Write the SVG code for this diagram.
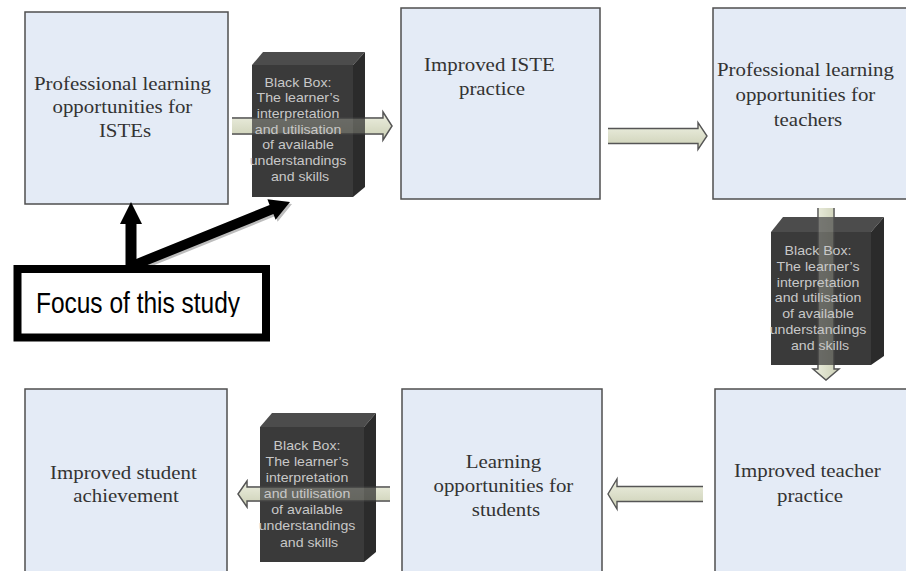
<svg xmlns="http://www.w3.org/2000/svg" width="906" height="571" viewBox="0 0 906 571">
  <defs>
    <linearGradient id="shaftH" x1="0" y1="0" x2="0" y2="1">
      <stop offset="0" stop-color="#eef0e2"/>
      <stop offset="1" stop-color="#cbcfb4"/>
    </linearGradient>
    <linearGradient id="shaftV" x1="0" y1="0" x2="1" y2="0">
      <stop offset="0" stop-color="#eef0e2"/>
      <stop offset="1" stop-color="#cbcfb4"/>
    </linearGradient>
    <clipPath id="focusClip">
      <rect x="20" y="272" width="243" height="45"/>
    </clipPath>
    <!-- reusable arrow outlines -->
    <path id="arrIste" d="M232,118 L383,118 L383,112 L392,126 L383,140 L383,134 L232,134"/>
    <path id="arrTeacher" d="M818,208 L818,369 L813,369 L826,380 L839,369 L834,369 L834,208"/>
    <path id="arrStudent" d="M390,487 L247,487 L247,481 L238,494 L247,507 L247,501 L390,501"/>
  </defs>
  <style>
    .card { fill: #e4ebf6; stroke: #4f4f4f; stroke-width: 1.5; }
    .label { font-family: "Liberation Serif", "Times New Roman", serif; font-size: 19px; fill: #333333; text-anchor: middle; }
    .front { fill: #3a3a3a; }
    .top { fill: #4c4c4c; }
    .side { fill: #2b2b2b; }
    .bb { font-family: "Liberation Sans", Arial, sans-serif; font-size: 13px; fill: #c8c8c8; text-anchor: middle; }
    .fillH { fill: url(#shaftH); stroke: none; }
    .fillV { fill: url(#shaftV); stroke: none; }
    .edge { fill: none; stroke: #555555; stroke-width: 1.4; stroke-linejoin: miter; }
    .ghost { opacity: 0.28; }
    .pointer { fill: #000000; }
    .focus { font-family: "Liberation Sans", Arial, sans-serif; font-size: 24.5px; fill: #000000; text-anchor: middle; }
  </style>

  <rect width="906" height="571" fill="#ffffff"/>

  <!-- outcome boxes -->
  <g id="pl-istes">
    <rect class="card" x="25" y="12" width="203" height="192"/>
    <text class="label" transform="translate(125 0) scale(1.1 1)">
      <tspan x="0" y="90">Professional learning</tspan>
      <tspan x="0" y="113.5">opportunities for</tspan>
      <tspan x="0" y="137">ISTEs</tspan>
    </text>
  </g>
  <g id="iste-practice">
    <rect class="card" x="401" y="8" width="199" height="191"/>
    <text class="label" transform="translate(492 0) scale(1.1 1)">
      <tspan x="0" y="71">Improved ISTE</tspan>
      <tspan x="0" y="95">practice</tspan>
    </text>
  </g>
  <g id="pl-teachers">
    <rect class="card" x="713" y="8" width="200" height="191"/>
    <text class="label" transform="translate(808 0) scale(1.1 1)">
      <tspan x="0" y="76">Professional learning</tspan>
      <tspan x="0" y="101">opportunities for</tspan>
      <tspan x="0" y="126">teachers</tspan>
    </text>
  </g>
  <g id="teacher-practice">
    <rect class="card" x="715" y="389" width="200" height="200"/>
    <text class="label" transform="translate(810 0) scale(1.1 1)">
      <tspan x="0" y="477">Improved teacher</tspan>
      <tspan x="0" y="502">practice</tspan>
    </text>
  </g>
  <g id="lo-students">
    <rect class="card" x="402" y="389" width="200" height="200"/>
    <text class="label" transform="translate(506 0) scale(1.1 1)">
      <tspan x="0" y="468">Learning</tspan>
      <tspan x="0" y="492">opportunities for</tspan>
      <tspan x="0" y="516">students</tspan>
    </text>
  </g>
  <g id="student-achievement">
    <rect class="card" x="25" y="389" width="202" height="200"/>
    <text class="label" transform="translate(126 0) scale(1.1 1)">
      <tspan x="0" y="479">Improved student</tspan>
      <tspan x="0" y="502">achievement</tspan>
    </text>
  </g>

  <!-- block arrows between stages -->
  <g id="connectors">
    <!-- ISTE PL -> ISTE practice -->
    <use href="#arrIste" class="fillH"/>
    <use href="#arrIste" class="edge"/>
    <!-- ISTE practice -> teacher PL -->
    <path class="fillH" d="M608,128.5 L698,128.5 L698,122.5 L707,136 L698,149.5 L698,143.5 L608,143.5 Z"/>
    <path class="edge" d="M608,128.5 L698,128.5 L698,122.5 L707,136 L698,149.5 L698,143.5 L608,143.5"/>
    <!-- teacher PL -> teacher practice -->
    <use href="#arrTeacher" class="fillV"/>
    <use href="#arrTeacher" class="edge"/>
    <!-- teacher practice -> student learning -->
    <path class="fillH" d="M703,486.5 L617,486.5 L617,479 L608,494 L617,509 L617,501.5 L703,501.5 Z"/>
    <path class="edge" d="M703,486.5 L617,486.5 L617,479 L608,494 L617,509 L617,501.5 L703,501.5"/>
    <!-- student learning -> achievement -->
    <use href="#arrStudent" class="fillH"/>
    <use href="#arrStudent" class="edge"/>

    <!-- pointers from the study focus -->
    <polygon fill="#bdbdbd" points="135.9,272.6 275.4,216.1 277.6,221.7 292,204 269.4,201.3 271.6,206.9 132.1,263.4"/>
    <polygon class="pointer" points="133.9,270.6 273.4,214.1 275.6,219.7 290,202 267.4,199.3 269.6,204.9 130.1,261.4"/>
    <polygon class="pointer" points="125.5,266 125.5,224 120,224 131,202 142,224 136.5,224 136.5,266"/>
  </g>

  <!-- black boxes, with the passing arrow showing faintly through -->
  <g id="blackbox-iste">
    <polygon class="top" points="252,65 263,52 365,52 353,65"/>
    <polygon class="side" points="353,65 365,52 365,187 353,197"/>
    <rect class="front" x="252" y="65" width="101" height="132"/>
    <g class="ghost">
      <use href="#arrIste" class="fillH"/>
      <use href="#arrIste" class="edge"/>
    </g>
    <text class="bb" transform="translate(300 0) scale(1.09 1)">
      <tspan x="0" y="87">Black Box:</tspan>
      <tspan x="0" y="102.5">The learner’s</tspan>
      <tspan x="0" y="118">interpretation</tspan>
      <tspan x="0" y="134">and utilisation</tspan>
      <tspan x="0" y="149.5">of available</tspan>
      <tspan x="0" y="165">understandings</tspan>
      <tspan x="0" y="181">and skills</tspan>
    </text>
  </g>
  <g id="blackbox-teacher">
    <polygon class="top" points="771,232 783,217 884,217 871,232"/>
    <polygon class="side" points="871,232 884,217 884,356 871,365"/>
    <rect class="front" x="771" y="232" width="100" height="133"/>
    <g class="ghost">
      <use href="#arrTeacher" class="fillV"/>
      <use href="#arrTeacher" class="edge"/>
    </g>
    <text class="bb" transform="translate(820 0) scale(1.09 1)">
      <tspan x="0" y="255">Black Box:</tspan>
      <tspan x="0" y="270.8">The learner’s</tspan>
      <tspan x="0" y="286.6">interpretation</tspan>
      <tspan x="0" y="302.4">and utilisation</tspan>
      <tspan x="0" y="318.2">of available</tspan>
      <tspan x="0" y="334">understandings</tspan>
      <tspan x="0" y="350">and skills</tspan>
    </text>
  </g>
  <g id="blackbox-student">
    <polygon class="top" points="260,427 272,413 376,413 364,427"/>
    <polygon class="side" points="364,427 376,413 376,552 364,562"/>
    <rect class="front" x="260" y="427" width="104" height="135"/>
    <g class="ghost">
      <use href="#arrStudent" class="fillH"/>
      <use href="#arrStudent" class="edge"/>
    </g>
    <text class="bb" transform="translate(309 0) scale(1.09 1)">
      <tspan x="0" y="450">Black Box:</tspan>
      <tspan x="0" y="466">The learner’s</tspan>
      <tspan x="0" y="482">interpretation</tspan>
      <tspan x="0" y="498.5">and utilisation</tspan>
      <tspan x="0" y="514.5">of available</tspan>
      <tspan x="0" y="530.5">understandings</tspan>
      <tspan x="0" y="547">and skills</tspan>
    </text>
  </g>

  <!-- study focus callout -->
  <g id="focus">
    <rect x="17.5" y="269" width="248.5" height="68.5" fill="#ffffff" stroke="#000000" stroke-width="8"/>
    <g clip-path="url(#focusClip)">
      <text class="focus" transform="translate(138 313) scale(1 1.22)" x="0" y="0">Focus of this study</text>
    </g>
  </g>
</svg>
